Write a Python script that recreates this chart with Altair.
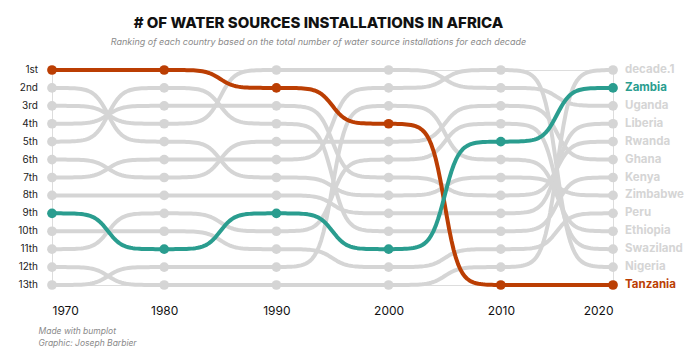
import altair as alt
import pandas as pd

DECADES = [1970, 1980, 1990, 2000, 2010, 2020]
RANK_LABELS = ["1st", "2nd", "3rd", "4th", "5th", "6th", "7th",
               "8th", "9th", "10th", "11th", "12th", "13th"]
RANK_VALUES = [1, 2, 3, 4, 5, 6, 7, 8, 9, 10, 11, 12, 13]

# rank of each country for each decade (1970 ... 2020)
TANZANIA = [1, 1, 2, 4, 13, 13]
ZIMBABWE = [2, 5, 7, 8, 7, 8]
UGANDA = [3, 4, 1, 1, 2, 3]
RWANDA = [4, 3, 3, 7, 8, 5]
KENYA = [5, 2, 4, 10, 10, 7]
GHANA = [6, 7, 5, 5, 3, 6]
NIGERIA = [7, 6, 6, 2, 1, 12]
LIBERIA = [8, 8, 8, 9, 9, 4]
ZAMBIA = [9, 11, 9, 11, 5, 2]
PERU = [10, 10, 11, 12, 11, 9]
SWAZILAND = [11, 9, 10, 6, 4, 11]
DECADE_1 = [12, 13, 13, 13, 12, 1]
ETHIOPIA = [13, 12, 12, 3, 6, 10]

COUNTRIES = {
    "Tanzania": TANZANIA, "Zimbabwe": ZIMBABWE, "Uganda": UGANDA,
    "Rwanda": RWANDA, "Kenya": KENYA, "Ghana": GHANA, "Nigeria": NIGERIA,
    "Liberia": LIBERIA, "Zambia": ZAMBIA, "Peru": PERU,
    "Swaziland": SWAZILAND, "decade.1": DECADE_1, "Ethiopia": ETHIOPIA,
}
HIGHLIGHT = {"Zambia": "Zambia", "Tanzania": "Tanzania"}

GREY = "#d5d5d5"
TEAL = "#2a9d8f"
RED = "#bb3e03"

pts, segs = [], []
for name, ranks in COUNTRIES.items():
    grp = HIGHLIGHT.get(name, "other")
    for d, r in zip(DECADES, ranks):
        pts.append({"country": name, "decade": d, "rank": r, "grp": grp})
    for i in range(len(DECADES) - 1):
        segs.append({"country": name, "seg": f"{name}-{i}", "grp": grp,
                     "d0": DECADES[i], "d1": DECADES[i + 1],
                     "r0": ranks[i], "r1": ranks[i + 1]})
pts_df = pd.DataFrame(pts)
seg_df = pd.DataFrame(segs)
ticks_df = pd.DataFrame({"rank": RANK_VALUES, "label": RANK_LABELS,
                         "decade": [DECADES[0]] * len(RANK_VALUES)})

color_scale = alt.Scale(domain=["other", "Zambia", "Tanzania"], range=[GREY, TEAL, RED])
xscale = alt.Scale(domain=[1970, 2020], nice=False, zero=False)
yscale = alt.Scale(domain=[1, 13], reverse=True, nice=False, zero=False)

xaxis = alt.Axis(values=DECADES, format="d", domain=False, ticks=False, grid=False,
                 labelFontSize=12, labelColor="#111", labelPadding=20,
                 labelFont="Inter", labelOverlap=False,
                 title=["Made with bumplot", "Graphic: Joseph Barbier"],
                 titleFont="Inter", titleFontSize=8.5, titleFontStyle="italic",
                 titleFontWeight="normal", titleColor="#8a8a8a",
                 titleAnchor="start", titleAlign="left", titleX=-14, titleY=41,
                 titleBaseline="top", titleLineHeight=12)

curve = (
    alt.Chart(seg_df)
    .transform_calculate(t="sequence(0, 1.0001, 0.02)")
    .transform_flatten(["t"])
    .transform_calculate(
        xx="datum.d0 + (datum.d1 - datum.d0) * datum.t",
        yy="datum.r0 + (datum.r1 - datum.r0) * "
           "((1 / (1 + exp(-16 * (datum.t - 0.5))) - 1 / (1 + exp(8))) / "
           "(1 / (1 + exp(-8)) - 1 / (1 + exp(8))))",
    )
)

grey_lines = curve.transform_filter("datum.grp == 'other'").mark_line(
    strokeWidth=4, strokeCap="round", strokeJoin="round"
).encode(
    x=alt.X("xx:Q", scale=xscale, axis=xaxis),
    y=alt.Y("yy:Q", scale=yscale, axis=None),
    detail="seg:N",
    order="t:Q",
    color=alt.Color("grp:N", scale=color_scale, legend=None),
)

hl_lines = curve.transform_filter("datum.grp != 'other'").mark_line(
    strokeWidth=4, strokeCap="round", strokeJoin="round"
).encode(
    x="xx:Q", y=alt.Y("yy:Q", axis=None),
    detail="seg:N", order="t:Q",
    color=alt.Color("grp:N", scale=color_scale, legend=None),
)

base_pts = alt.Chart(pts_df)
grey_pts = base_pts.transform_filter("datum.grp == 'other'").mark_circle(
    size=95, opacity=1
).encode(x="decade:Q", y=alt.Y("rank:Q", axis=None),
         color=alt.Color("grp:N", scale=color_scale, legend=None))
hl_pts = base_pts.transform_filter("datum.grp != 'other'").mark_circle(
    size=95, opacity=1
).encode(x="decade:Q", y=alt.Y("rank:Q", axis=None),
         color=alt.Color("grp:N", scale=color_scale, legend=None))

labels = base_pts.transform_filter("datum.decade == 2020").mark_text(
    align="left", baseline="middle", dx=12, font="Inter", fontSize=11.5,
    fontWeight="bold"
).encode(x="decade:Q", y=alt.Y("rank:Q", axis=None),
         text="country:N",
         color=alt.Color("grp:N", scale=color_scale, legend=None))

rank_labels = alt.Chart(ticks_df).mark_text(
    align="right", baseline="middle", dx=-14, font="Inter", fontSize=10,
    color="#222"
).encode(x="decade:Q", y=alt.Y("rank:Q", axis=None), text="label:N")

chart = alt.layer(grey_lines, grey_pts, hl_lines, hl_pts, labels, rank_labels).properties(
    width=561, height=215,
    autosize=alt.AutoSizeParams(type="none"),
    padding={"left": 52, "right": 82, "top": 70, "bottom": 71},
    title=alt.TitleParams(
        text="# OF WATER SOURCES INSTALLATIONS IN AFRICA",
        subtitle="Ranking of each country based on the total number of water source installations for each decade",
        font="Inter", fontSize=15, fontWeight=800, color="#111",
        subtitleFont="Inter", subtitleFontSize=9, subtitleFontStyle="italic",
        subtitleColor="#8a8a8a", subtitlePadding=7,
        anchor="middle", dx=-14, offset=17,
    ),
).configure_view(stroke=None).configure(background="white")

chart.save("out.html", embed_options={"renderer": "svg", "actions": False})
